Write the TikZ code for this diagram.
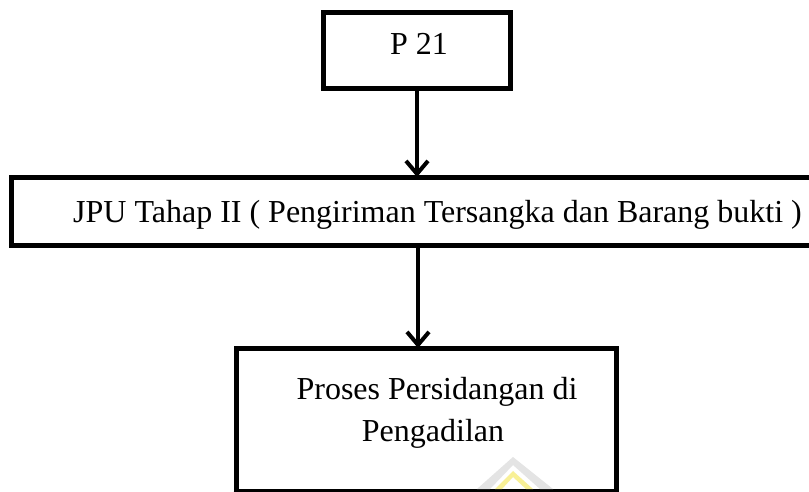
\documentclass[tikz,border=0pt]{standalone}
\usepackage{fontspec}
\setmainfont{Liberation Serif}
\usetikzlibrary{arrows.meta}
\definecolor{wmgray}{RGB}{228,228,228}
\definecolor{wmyellow}{RGB}{248,240,150}
\tikzset{
  boxstyle/.style={draw=black, line width=5pt, inner sep=0pt, fill=white},
  txt/.style={inner sep=0pt, font=\fontsize{32}{42}\selectfont},
  arr/.style={line width=4.5pt, -{Straight Barb[length=13pt,width=22pt,line width=4pt]}},
}
\begin{document}
\begin{tikzpicture}[x=1pt,y=-1pt]
\useasboundingbox (0,0) rectangle (809,491);
\clip (0,0) rectangle (809,491);
\fill[white] (0,0) rectangle (809,491);
% boxes
\node[boxstyle, minimum width=187pt, minimum height=76pt] (b1) at (416.5,50) {};
\node[boxstyle, minimum width=820pt, minimum height=68pt] (b2) at (421,211.5) {};
% faint watermark fragment (behind the bottom edge of the third box)
\node[boxstyle, minimum width=380pt, minimum height=143pt] (b3) at (426,419.5) {};
\fill[wmgray] (477,489) -- (513,457) -- (553,489) -- (540,489) -- (513,465) -- (490,489) -- cycle;
\fill[wmyellow] (495,489) -- (513,471) -- (533,489) -- (526,489) -- (513,477) -- (502,489) -- cycle;
\draw[line width=5pt] (b3.south west) -- (b3.south east);
% texts
\node[txt, anchor=base] (t1) at (419,54) {P 21};
\node[txt, anchor=base west] (t2) at (73,222) {JPU Tahap II ( Pengiriman Tersangka dan Barang bukti )};
\node[txt, anchor=base] (t3a) at (437,399) {Proses Persidangan di};
\node[txt, anchor=base] (t3b) at (433,441) {Pengadilan};
% arrows
\coordinate (a1s) at (417,88);
\coordinate (a1e) at (417,177);
\coordinate (a2s) at (418,246);
\coordinate (a2e) at (418,348);
\draw[arr] (a1s) -- (a1e);
\draw[arr] (a2s) -- (a2e);
\end{tikzpicture}
\end{document}
